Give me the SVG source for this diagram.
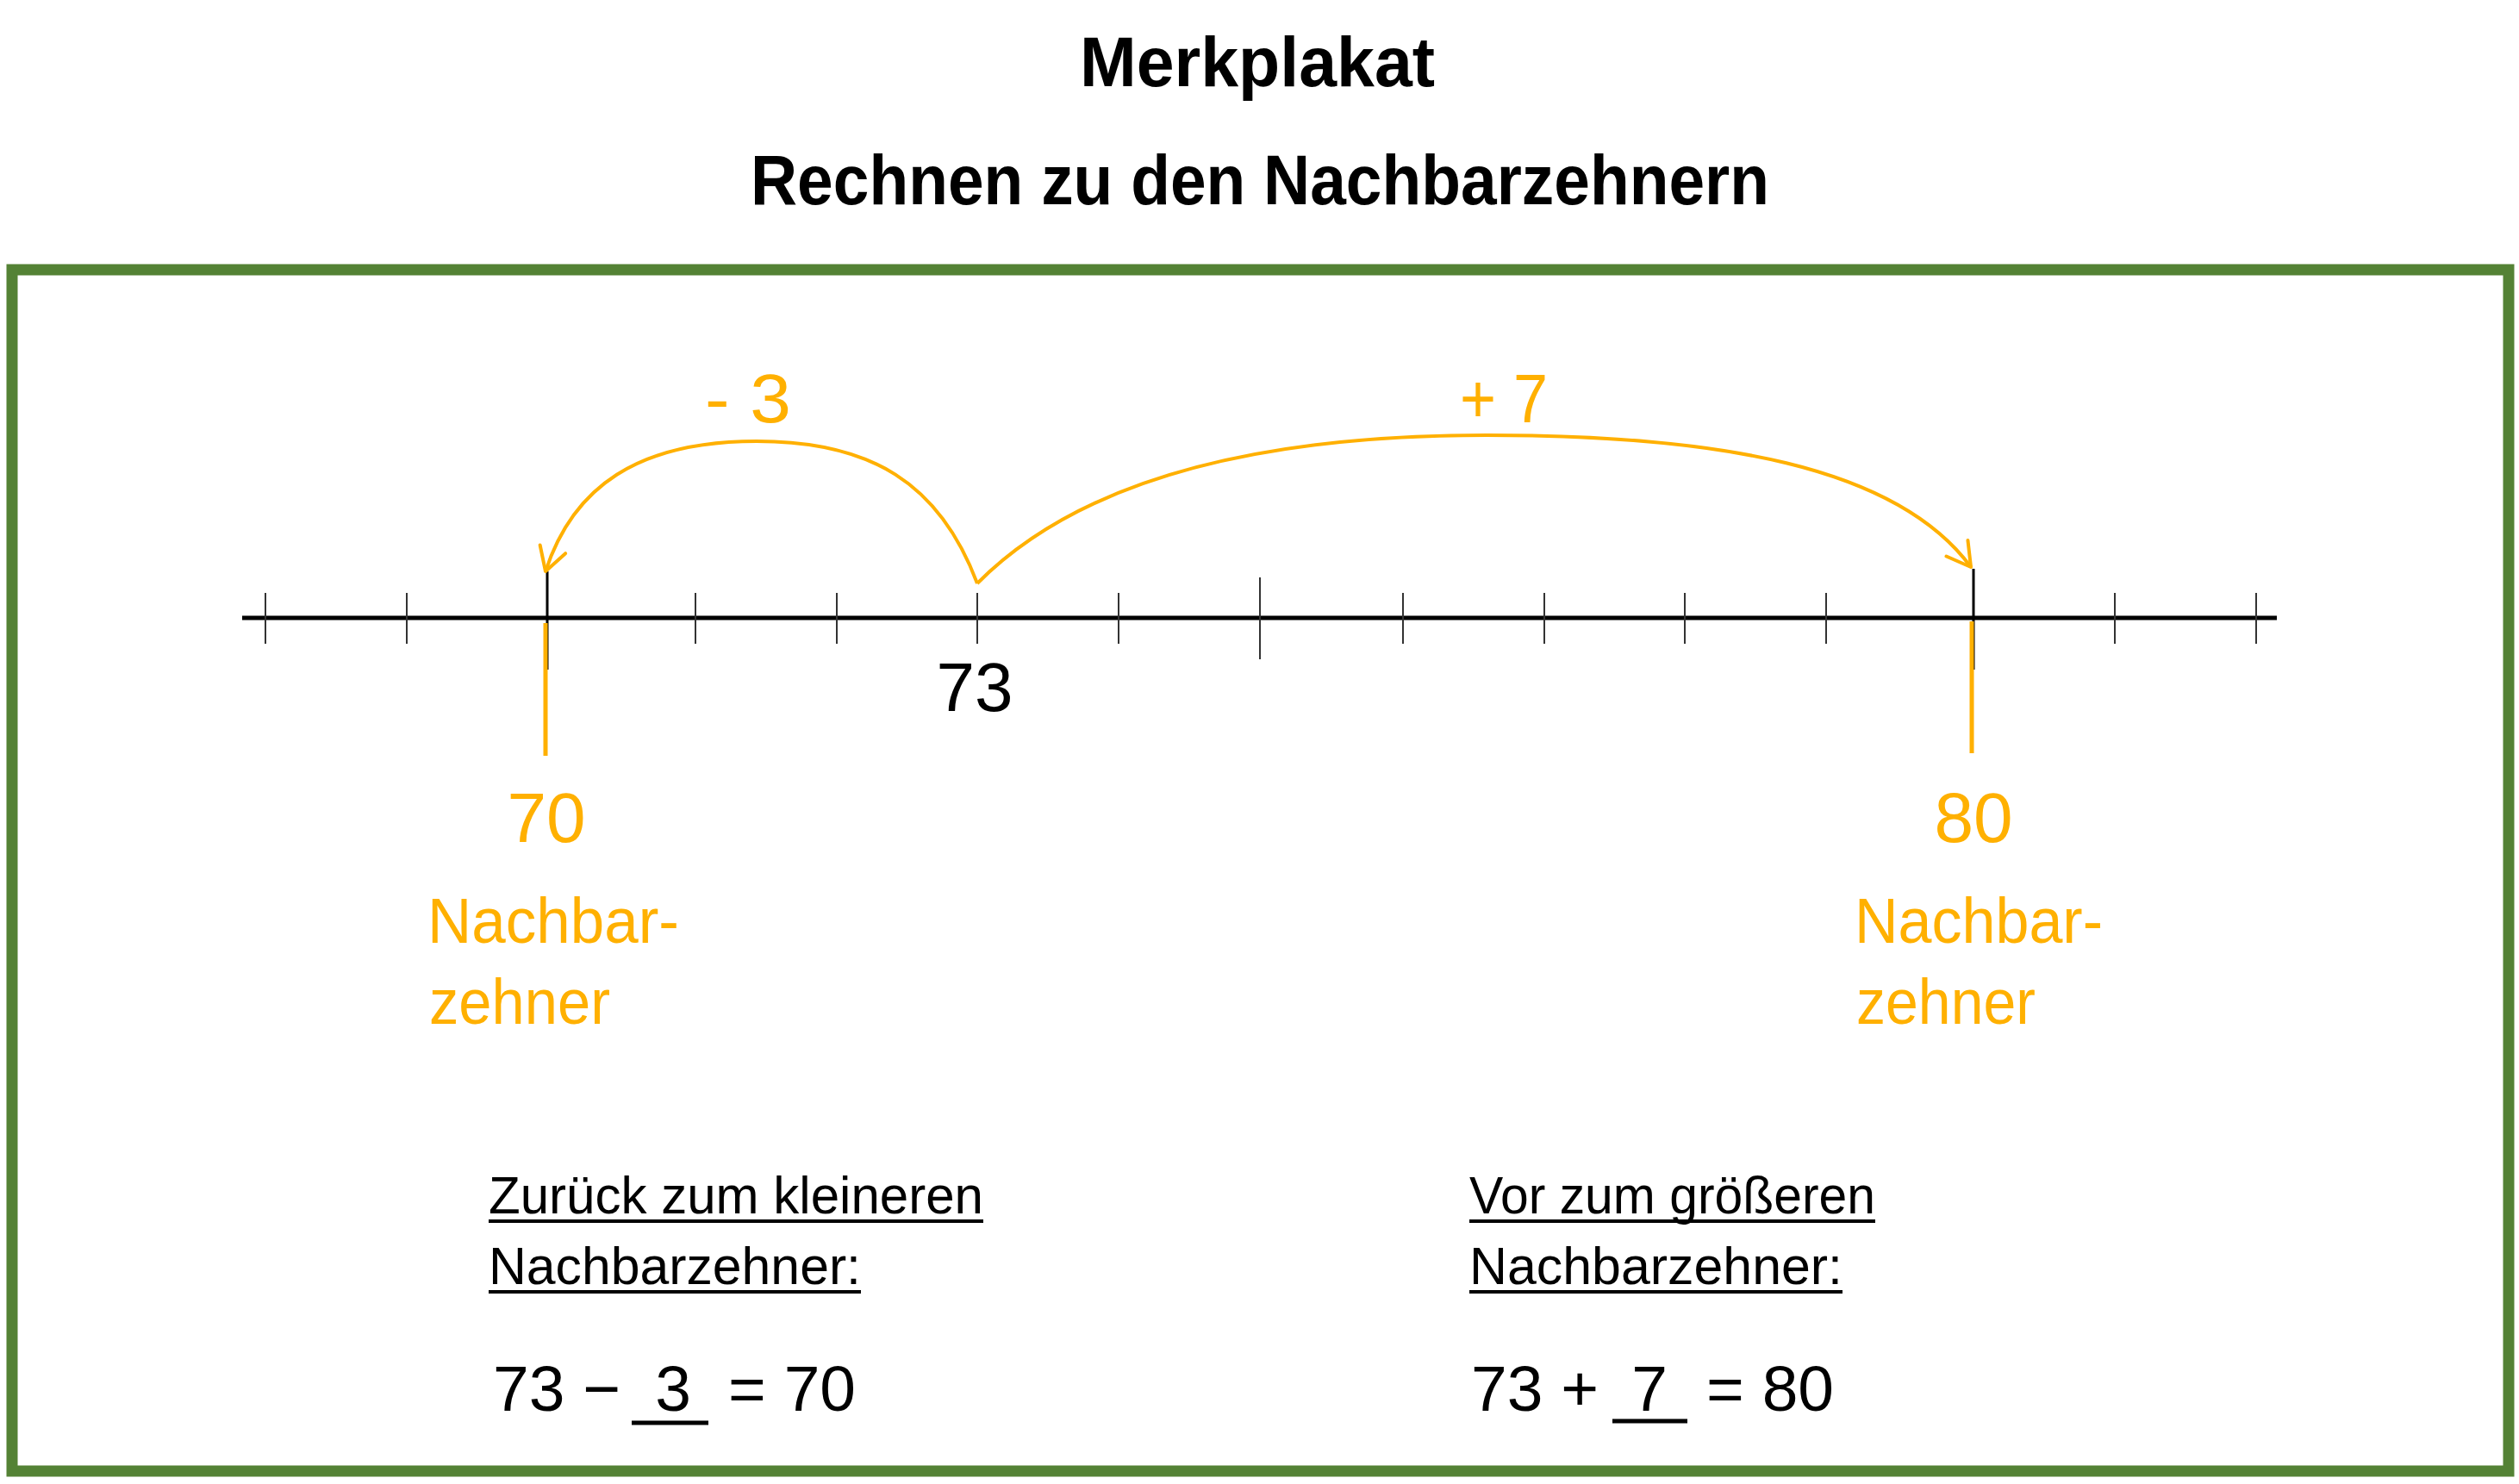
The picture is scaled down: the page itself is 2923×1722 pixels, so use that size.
<svg xmlns="http://www.w3.org/2000/svg" width="2923" height="1722" viewBox="0 0 2923 1722">
<style>
  .title{font-family:"Liberation Sans",Arial,sans-serif;font-weight:bold;font-size:82px;fill:#000}
  .hand{font-family:"Liberation Sans",Arial,sans-serif;fill:#000}
  .or{fill:#FFB000}
  .num{font-family:"Liberation Sans",Arial,sans-serif;font-size:75px;fill:#000}
  .tick{stroke:#333;stroke-width:2}
  .main{stroke:#000;stroke-width:3}
  .arc{fill:none;stroke:#FFB000;stroke-width:4;marker-end:url(#open)}
  .oline{stroke:#FFB000;stroke-width:5}
  .ul{stroke:#000;stroke-width:4}
</style>
<defs>
  <marker id="open" markerUnits="userSpaceOnUse" markerWidth="60" markerHeight="60" refX="0" refY="0" viewBox="-40 -30 60 60" orient="auto">
    <path d="M-27,-15.5 L0,0 L-27,15.5" fill="none" stroke="#FFB000" stroke-width="4" stroke-linecap="round" stroke-linejoin="round"/>
  </marker>
</defs>
<rect width="2923" height="1722" fill="#fff"/>

<g id="title">
  <text class="title" x="1253" y="100" textLength="412" lengthAdjust="spacingAndGlyphs">Merkplakat</text>
  <text class="title" x="871" y="237" textLength="1182" lengthAdjust="spacingAndGlyphs">Rechnen zu den Nachbarzehnern</text>
</g>

<g id="frame">
  <rect x="14" y="313" width="2897" height="1394" fill="none" stroke="#548235" stroke-width="13"/>
</g>

<g id="numberline">
  <line x1="281" y1="717" x2="2642" y2="717" stroke="#000" stroke-width="5"/>
  <line class="tick" x1="308" y1="688" x2="308" y2="747"/>
  <line class="tick" x1="472" y1="688" x2="472" y2="747"/>
  <line class="tick" x1="807" y1="688" x2="807" y2="747"/>
  <line class="tick" x1="971" y1="688" x2="971" y2="747"/>
  <line class="tick" x1="1134" y1="688" x2="1134" y2="747"/>
  <line class="tick" x1="1298" y1="688" x2="1298" y2="747"/>
  <line class="tick" x1="1462" y1="670" x2="1462" y2="765"/>
  <line class="tick" x1="1628" y1="688" x2="1628" y2="747"/>
  <line class="tick" x1="1792" y1="688" x2="1792" y2="747"/>
  <line class="tick" x1="1955" y1="688" x2="1955" y2="747"/>
  <line class="tick" x1="2119" y1="688" x2="2119" y2="747"/>
  <line class="tick" x1="2454" y1="688" x2="2454" y2="747"/>
  <line class="tick" x1="2618" y1="688" x2="2618" y2="747"/>
  <line class="main" x1="635" y1="663" x2="635" y2="777"/>
  <line class="main" x1="2290" y1="660" x2="2290" y2="777"/>
  <text class="hand" x="1131" y="825" font-size="80" text-anchor="middle">73</text>
</g>

<g id="connectors">
  <path class="arc" d="M1134,677 C1090,560 1010,512 878,512 C740,512 665,565 633,663"/>
  <path class="arc" d="M1134,677 C1250,560 1450,505 1725,505 C1990,505 2200,540 2287,658"/>
  <line class="oline" x1="633" y1="723" x2="633" y2="877"/>
  <line class="oline" x1="2288" y1="721" x2="2288" y2="874"/>
</g>

<g id="label-minus3">
  <text class="hand or" x="818" y="490" font-size="80" textLength="100" lengthAdjust="spacingAndGlyphs">- 3</text>
</g>
<g id="label-plus7">
  <text class="hand or" x="1694" y="490" font-size="80" textLength="102" lengthAdjust="spacingAndGlyphs">+ 7</text>
</g>

<g id="node-70">
  <text class="hand or" x="634" y="977" font-size="82" text-anchor="middle">70</text>
  <text class="hand or" x="496" y="1094" font-size="74" textLength="292" lengthAdjust="spacingAndGlyphs">Nachbar-</text>
  <text class="hand or" x="498" y="1188" font-size="74" textLength="210" lengthAdjust="spacingAndGlyphs">zehner</text>
</g>
<g id="node-80">
  <text class="hand or" x="2290" y="977" font-size="82" text-anchor="middle">80</text>
  <text class="hand or" x="2152" y="1094" font-size="74" textLength="288" lengthAdjust="spacingAndGlyphs">Nachbar-</text>
  <text class="hand or" x="2154" y="1188" font-size="74" textLength="208" lengthAdjust="spacingAndGlyphs">zehner</text>
</g>

<g id="left-rule">
  <text class="hand" x="567" y="1408" font-size="62" textLength="574" lengthAdjust="spacingAndGlyphs">Zurück zum kleineren</text>
  <line class="ul" x1="567" y1="1417" x2="1141" y2="1417"/>
  <text class="hand" x="567" y="1490" font-size="62" textLength="432" lengthAdjust="spacingAndGlyphs">Nachbarzehner:</text>
  <line class="ul" x1="567" y1="1499" x2="999" y2="1499"/>
  <text class="num" x="572" y="1637">73 −</text>
  <text class="num" x="781" y="1637" text-anchor="middle">3</text>
  <line x1="733" y1="1651" x2="822" y2="1651" stroke="#000" stroke-width="5"/>
  <text class="num" x="845" y="1637">= 70</text>
</g>

<g id="right-rule">
  <text class="hand" x="1705" y="1408" font-size="62" textLength="471" lengthAdjust="spacingAndGlyphs">Vor zum größeren</text>
  <line class="ul" x1="1705" y1="1417" x2="2176" y2="1417"/>
  <text class="hand" x="1705" y="1490" font-size="62" textLength="433" lengthAdjust="spacingAndGlyphs">Nachbarzehner:</text>
  <line class="ul" x1="1705" y1="1499" x2="2138" y2="1499"/>
  <text class="num" x="1707" y="1637">73 +</text>
  <text class="num" x="1914" y="1637" text-anchor="middle">7</text>
  <line x1="1871" y1="1649" x2="1958" y2="1649" stroke="#000" stroke-width="5"/>
  <text class="num" x="1980" y="1637">= 80</text>
</g>
</svg>
